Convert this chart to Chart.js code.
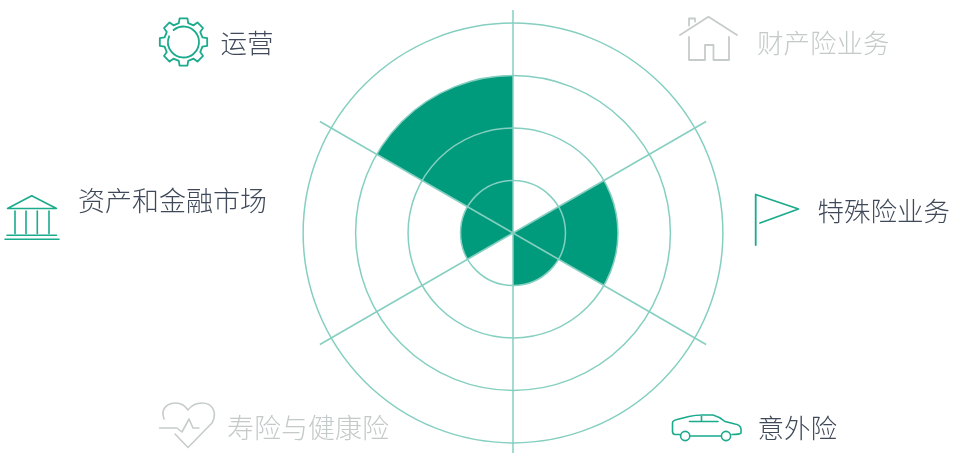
<!DOCTYPE html>
<html lang="zh">
<head>
<meta charset="utf-8">
<style>
  html, body { margin: 0; padding: 0; background: #fff; overflow: hidden; height: 453px; }
  #wrap { position: relative; width: 960px; height: 456px; }
</style>
<script src="https://cdn.jsdelivr.net/npm/chart.js@4/dist/chart.umd.min.js"></script>
</head>
<body>
<div id="wrap"><canvas id="rose"></canvas></div>
<script>
// Business lines, clockwise from twelve o'clock, and their ring levels
const categories = ['财产险业务', '特殊险业务', '意外险', '寿险与健康险', '资产和金融市场', '运营'];
const levels = [0, 2, 1, 0, 1, 3];
const ringTicks = [0, 1, 2, 3, 4];
const spokeLimit = 4.25;

const FILL = '#009b7c';
const GRID = '#85cfc0';
const ICON = '#1aaa8c';
const ICON_MUTED = '#c6cccb';
const TEXT = '#3f4959';
const TEXT_MUTED = '#c4cac9';

const FAMILY = '"Noto Sans CJK SC", "Noto Sans", sans-serif';

function stroke(ctx, color, width, build) {
  ctx.save();
  ctx.strokeStyle = color;
  ctx.lineWidth = width;
  ctx.lineJoin = 'round';
  ctx.lineCap = 'round';
  ctx.beginPath();
  build(ctx);
  ctx.stroke();
  ctx.restore();
}

function polyline(ctx, pts) {
  pts.forEach((p, i) => (i ? ctx.lineTo(p[0], p[1]) : ctx.moveTo(p[0], p[1])));
}

const icons = {
  gear(ctx) {
    const cx = 183.5, cy = 42, teeth = 8;
    stroke(ctx, ICON, 1.8, c => {
      for (let i = 0; i < teeth; i++) {
        const a = (i / teeth) * Math.PI * 2 - Math.PI / 2;
        const w = Math.PI / teeth;
        const at = (r, d) => [cx + r * Math.cos(a + d), cy + r * Math.sin(a + d)];
        const p = [at(19.5, -w * 0.62), at(24, -w * 0.42), at(24, w * 0.42), at(19.5, w * 0.62)];
        if (i === 0) c.moveTo(p[0][0], p[0][1]);
        p.forEach(q => c.lineTo(q[0], q[1]));
      }
      c.closePath();
    });
    stroke(ctx, ICON, 1.8, c => {
      c.arc(cx, cy, 15.5, -Math.PI * 0.72, Math.PI * 1.12);
    });
  },
  house(ctx) {
    stroke(ctx, ICON_MUTED, 1.8, c => {
      polyline(c, [[680, 35], [708.5, 16.7], [737, 35]]);
      polyline(c, [[689, 25.5], [689, 18.5], [695, 18.5], [695, 21.5]]);
      polyline(c, [[689, 37], [689, 60], [705, 60], [705, 45], [713.5, 45], [713.5, 60], [729, 60], [729, 37]]);
    });
  },
  bank(ctx) {
    stroke(ctx, ICON, 1.6, c => {
      polyline(c, [[7.5, 208.5], [31.7, 195.7], [56.5, 208.5], [7.5, 208.5]]);
      [15, 26, 37.3, 49].forEach(x => polyline(c, [[x, 211], [x, 233.5]]));
      polyline(c, [[7, 235.3], [56.5, 235.3]]);
      polyline(c, [[5, 239.3], [59, 239.3]]);
    });
  },
  flag(ctx) {
    stroke(ctx, ICON, 1.8, c => {
      polyline(c, [[755.7, 245], [755.7, 194.5], [798.5, 209], [760, 223]]);
    });
  },
  car(ctx) {
    stroke(ctx, ICON, 1.6, c => {
      c.moveTo(680, 434.5);
      c.lineTo(675, 434.5);
      c.quadraticCurveTo(672.5, 434.5, 672.5, 431);
      c.lineTo(672.5, 423);
      c.quadraticCurveTo(672.5, 420.5, 677, 419.5);
      c.lineTo(689, 416.5);
      c.quadraticCurveTo(695, 415, 703, 415);
      c.lineTo(713, 415);
      c.quadraticCurveTo(719, 416.5, 725, 421.5);
      c.lineTo(735, 424);
      c.quadraticCurveTo(740.5, 425, 741, 429);
      c.lineTo(741, 433);
      c.quadraticCurveTo(740, 434.5, 732, 434.5);
      polyline(c, [[690, 436], [720.5, 436]]);
      polyline(c, [[689.5, 421.5], [718, 421.5]]);
      polyline(c, [[701.5, 415], [701.5, 421.5]]);
      c.moveTo(689.8, 436);
      c.arc(685.2, 436, 4.6, 0, Math.PI * 2);
      c.moveTo(730.6, 436);
      c.arc(726, 436, 4.6, 0, Math.PI * 2);
    });
  },
  heart(ctx) {
    stroke(ctx, ICON_MUTED, 1.6, c => {
      c.moveTo(164, 419);
      c.bezierCurveTo(160, 408, 168, 403, 176, 403);
      c.bezierCurveTo(182, 403, 186, 407, 188, 410);
      c.bezierCurveTo(191, 406, 196, 403, 202, 403);
      c.bezierCurveTo(212, 403, 218, 412, 212, 423);
      c.lineTo(188, 447.5);
      c.lineTo(175, 434);
      polyline(c, [[159.5, 428], [177, 428], [182, 432], [189, 419], [193, 428], [199, 428]]);
    });
  }
};

// Captions and pictograms placed around the rose
const annotations = [
  { text: categories[0], x: 757, y: 43, size: 26.5, color: TEXT_MUTED, icon: 'house' },
  { text: categories[1], x: 817.5, y: 211, size: 26.5, color: TEXT, icon: 'flag' },
  { text: categories[2], x: 757.5, y: 428, size: 26.5, color: TEXT, icon: 'car' },
  { text: categories[3], x: 227, y: 428, size: 27, color: TEXT_MUTED, icon: 'heart' },
  { text: categories[4], x: 78, y: 201, size: 27, color: TEXT, icon: 'bank' },
  { text: categories[5], x: 220.5, y: 43, size: 26.5, color: TEXT, icon: 'gear' }
];

const annotationPlugin = {
  id: 'annotations',
  afterDraw(chart) {
    const ctx = chart.ctx;
    annotations.forEach(a => {
      icons[a.icon](ctx);
      ctx.save();
      ctx.font = '300 ' + a.size + 'px ' + FAMILY;
      ctx.fillStyle = a.color;
      ctx.textBaseline = 'middle';
      ctx.textAlign = 'left';
      ctx.fillText(a.text, a.x, a.y);
      ctx.restore();
    });
  }
};

new Chart(document.getElementById('rose'), {
  type: 'polarArea',
  data: {
    labels: categories,
    datasets: [{
      data: levels,
      backgroundColor: FILL,
      borderWidth: 0
    }]
  },
  plugins: [annotationPlugin],
  options: {
    responsive: true,
    maintainAspectRatio: false,
    animation: false,
    layout: { padding: { left: 66, top: 10, right: 0, bottom: 0 } },
    plugins: { legend: { display: false }, tooltip: { enabled: false } },
    scales: {
      r: {
        min: 0,
        max: spokeLimit,
        ticks: { display: false, stepSize: 1, z: 1 },
        afterBuildTicks(scale) {
          scale.ticks = ringTicks.map(value => ({ value }));
        },
        grid: { display: true, circular: true, color: GRID, lineWidth: 1.5, z: 1 },
        angleLines: { display: true, color: GRID, lineWidth: 1.5 },
        pointLabels: { display: false }
      }
    }
  }
});
</script>
</body>
</html>
